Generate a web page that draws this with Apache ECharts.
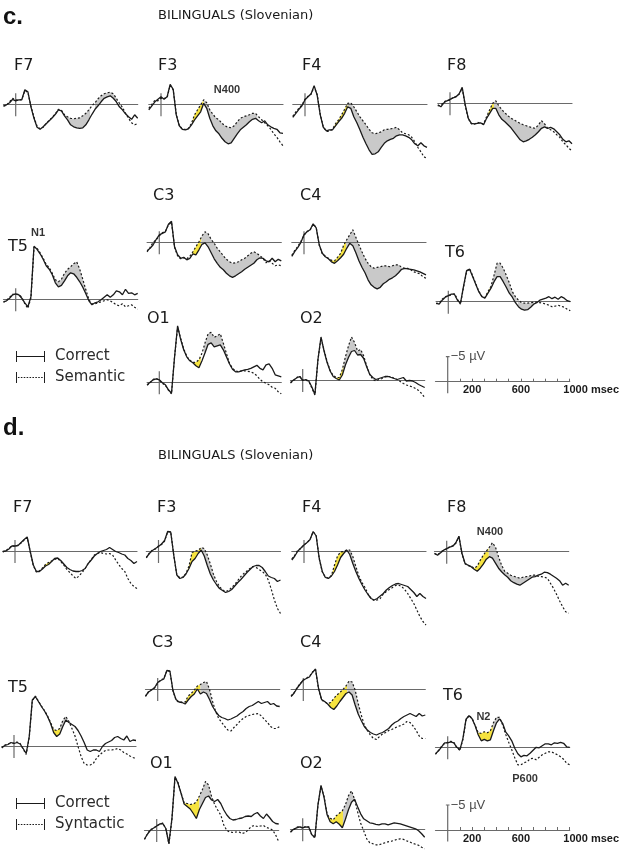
<!DOCTYPE html>
<html>
<head>
<meta charset="utf-8">
<script src="https://cdn.jsdelivr.net/npm/echarts@6/dist/echarts.min.js"></script>
<style>
  html, body { margin: 0; padding: 0; background: #fff; }
  #chart { width: 624px; height: 850px; }
</style>
</head>
<body>
<div id="chart"></div>
<script>
// Sample times (ms) shared by every waveform
const TIMES = [-100,-75,-50,-25,0,25,50,75,100,125,150,175,200,225,250,275,300,325,350,375,400,425,450,475,500,525,550,575,600,625,650,675,700,725,750,775,800,825,850,875,900,925,950,975,1000];

// ---- Panel c: Correct vs Semantic (µV, negative up) ----
const cF7Correct  = [0.3,0.1,-0.3,-1.0,-0.7,-0.9,-0.9,-2.9,-2.5,0.5,2.8,4.6,5.0,4.5,3.9,3.3,2.7,2.0,1.1,1.3,2.3,3.1,4.1,4.5,4.7,4.8,4.7,4.1,3.1,2.0,1.0,0.3,-0.5,-1.2,-1.5,-1.7,-1.2,-0.5,0.5,1.1,1.9,2.5,3.0,2.1,2.8];
const cF7Semantic = [0.4,0.2,-0.5,-1.2,-0.9,-0.8,-1.0,-2.7,-2.4,0.4,2.6,4.4,4.9,4.6,3.8,3.2,2.6,1.9,1.0,1.2,2.1,2.5,2.8,2.9,2.8,2.7,2.3,1.8,1.1,0.3,-0.3,-1.1,-1.7,-2.1,-2.3,-2.4,-2.1,-1.2,-0.2,0.6,1.8,2.8,3.7,4.1,3.9];
const cF3Correct  = [1.1,0.3,-0.5,-1.0,-1.5,-1.0,-1.5,-4.0,-3.0,2.1,4.3,5.0,5.1,4.9,4.1,3.1,2.3,1.5,-0.2,0.8,2.8,4.3,5.3,5.9,6.8,7.5,7.9,7.7,6.8,5.9,5.1,4.6,4.1,3.5,3.0,2.8,3.3,3.7,3.3,4.1,4.5,4.8,5.0,5.7,5.8];
const cF3Semantic = [0.8,0.0,-0.8,-0.7,-1.2,-1.2,-1.3,-3.8,-2.9,2.0,4.2,5.0,5.0,4.8,3.8,2.1,1.1,0.1,-0.9,-0.3,1.1,2.0,2.7,3.1,3.8,4.3,4.6,4.7,4.3,3.5,2.8,2.5,2.3,2.1,1.8,1.8,2.5,3.1,3.7,4.3,5.0,5.9,6.6,7.5,8.3];
const cF4Correct  = [2.6,1.8,1.0,0.3,-0.9,-1.5,-2.1,-3.7,-1.8,2.1,4.6,5.3,5.1,5.1,4.3,3.5,2.8,1.8,0.5,0.8,2.5,3.7,5.1,6.6,7.9,9.1,10.0,9.9,9.5,8.6,7.8,7.3,7.0,6.8,6.3,6.1,6.1,6.3,6.6,7.1,7.9,8.3,7.7,8.3,8.6];
const cF4Semantic = [2.4,1.5,0.8,0.1,-1.0,-1.6,-2.0,-3.5,-1.9,2.0,4.5,5.4,5.4,5.0,3.9,3.1,2.1,1.0,-0.2,-0.3,0.5,1.5,2.5,3.3,4.1,5.0,5.7,5.9,5.7,5.5,5.1,5.0,4.9,4.8,4.6,5.1,5.7,5.9,6.1,6.6,7.5,8.6,9.5,10.5,10.8];
const cF8Correct  = [0.3,0.7,-0.1,-0.5,-0.8,-1.1,-1.3,-1.9,-3.2,0.3,3.0,4.0,4.1,4.0,3.9,4.3,3.0,2.0,1.0,1.0,2.3,3.2,3.7,4.3,4.9,5.7,6.5,7.3,7.7,7.5,7.2,6.8,6.3,5.7,5.0,4.7,5.0,4.8,5.1,5.7,6.3,7.2,7.7,7.5,8.1];
const cF8Semantic = [0.5,0.4,-0.3,-0.6,-0.6,-1.2,-1.4,-1.8,-3.0,0.5,3.1,4.1,4.2,3.8,4.0,4.1,2.7,1.3,0.0,-0.5,0.5,1.3,1.9,2.5,3.0,3.3,3.7,4.0,4.3,4.5,4.7,4.9,5.0,4.3,3.5,4.1,5.0,5.3,5.7,6.3,6.8,7.7,8.3,9.0,9.5];
const cT5Correct  = [0.5,0.3,-0.2,-0.9,-1.1,-0.9,-0.2,0.7,1.5,-0.5,-10.6,-10.0,-9.1,-8.0,-6.7,-6.0,-4.9,-3.3,-2.5,-2.8,-3.7,-4.7,-5.3,-5.1,-4.4,-3.5,-2.4,-1.1,0.3,1.1,0.7,0.5,0.1,-0.4,-0.9,-0.4,-0.9,-1.7,-1.5,-0.9,-2.0,-1.2,-1.3,-0.9,-1.2];
const cT5Semantic = [0.6,0.2,-0.4,-1.0,-1.0,-1.0,-0.4,0.9,1.8,-0.3,-10.4,-10.2,-9.3,-8.2,-7.0,-6.3,-5.2,-3.9,-3.5,-4.0,-5.2,-6.0,-6.5,-7.1,-7.5,-6.0,-4.0,-1.9,0.1,0.9,0.9,0.7,0.5,0.3,0.1,0.3,0.7,1.1,1.3,0.9,1.5,1.3,1.1,1.6,2.0];
const cC3Correct  = [1.7,1.2,0.5,-0.6,-1.5,-1.8,-2.1,-3.6,-4.2,0.9,2.5,3.2,3.0,3.5,3.2,2.3,2.5,1.5,0.4,0.1,0.9,2.1,3.3,4.2,5.0,5.5,6.2,6.7,7.0,6.7,6.3,5.9,5.4,5.0,4.6,4.2,3.5,3.1,3.2,3.7,3.9,3.2,3.9,3.4,3.7];
const cC3Semantic = [1.9,1.0,0.0,-0.5,-1.3,-1.9,-2.2,-3.5,-4.0,1.0,2.7,3.3,3.1,3.3,2.8,1.9,0.9,-0.1,-1.3,-2.1,-1.7,-0.6,0.2,1.2,1.9,2.7,3.4,3.9,4.2,4.1,3.9,3.5,3.2,2.7,2.2,1.9,2.2,2.7,3.2,4.1,3.7,4.2,4.7,4.5,4.7];
const cC4Correct  = [2.8,1.8,1.0,0.0,-1.5,-2.1,-2.5,-3.7,-2.9,0.5,2.2,2.9,3.3,3.9,4.2,3.7,3.1,2.4,1.2,0.2,0.7,2.1,3.7,5.0,6.1,7.5,8.5,9.0,9.3,9.0,8.3,7.9,7.4,7.1,6.7,6.1,5.4,5.2,5.3,5.4,5.5,5.7,5.9,6.2,6.5];
const cC4Semantic = [2.6,1.6,0.8,-0.2,-1.4,-2.2,-2.4,-3.6,-3.0,0.6,2.3,2.8,3.2,3.6,3.7,3.0,2.2,0.6,-0.5,-1.5,-2.5,-1.0,0.5,1.9,3.2,4.2,4.9,5.2,5.0,4.9,4.7,4.7,4.9,4.7,4.5,4.5,5.0,5.2,5.2,5.5,5.9,6.1,6.3,6.9,7.2];
const cT6Correct  = [0.3,0.5,-0.3,-0.9,-1.2,-1.5,-1.5,-0.3,0.3,-3.1,-6.2,-6.5,-5.0,-3.5,-2.0,-1.0,-0.7,-1.7,-2.7,-4.0,-5.0,-5.0,-4.0,-2.9,-1.7,-0.9,0.2,1.0,1.5,1.7,1.6,1.1,0.5,0.2,-0.3,-0.5,-0.7,-1.0,-0.6,-0.9,-0.5,-1.0,-0.7,-0.2,0.0];
const cT6Semantic = [0.4,0.3,-0.5,-1.0,-1.1,-1.4,-1.6,-0.5,0.5,-2.9,-6.0,-6.6,-5.2,-3.6,-2.1,-1.1,-0.8,-2.0,-3.1,-5.3,-7.7,-7.7,-6.7,-5.3,-3.8,-2.0,-1.0,-0.3,0.2,0.3,0.3,0.2,0.1,0.1,0.2,0.3,0.5,0.7,1.0,0.9,0.7,0.9,1.1,1.5,1.8];
const cO1Correct  = [0.5,0.0,-0.5,-0.7,-0.5,0.1,0.5,1.5,2.2,-5.0,-11.3,-8.6,-6.5,-5.1,-4.3,-3.9,-3.3,-2.9,-4.3,-5.9,-7.6,-7.9,-7.1,-7.3,-7.5,-6.5,-5.1,-3.7,-2.6,-2.1,-2.1,-2.3,-2.5,-2.6,-2.8,-3.1,-3.4,-2.8,-2.5,-3.5,-3.7,-2.8,-1.5,-1.3,-1.1];
const cO1Semantic = [0.6,0.1,-0.6,-0.8,-0.4,0.2,0.6,1.6,2.3,-5.1,-11.0,-8.8,-6.7,-5.2,-4.4,-4.0,-4.0,-4.5,-5.8,-7.9,-9.7,-10.0,-9.0,-9.3,-9.7,-7.8,-5.8,-3.8,-2.8,-2.3,-2.1,-2.3,-2.3,-2.2,-2.1,-1.8,-1.3,-0.6,-0.1,0.2,0.5,1.0,1.2,1.9,2.3];
const cO2Correct  = [0.5,0.0,-0.4,-0.7,0.1,-0.1,0.2,1.4,2.9,-4.1,-8.6,-5.8,-3.5,-1.8,-0.7,-0.3,0.0,-1.0,-3.0,-4.5,-5.7,-5.9,-5.0,-5.1,-4.3,-2.6,-1.1,-0.5,-0.1,-0.3,-0.5,-0.7,-0.7,-0.5,-0.3,-0.1,-0.3,-0.5,0.2,0.1,0.2,0.5,0.9,1.2,1.5];
const cO2Semantic = [0.6,0.1,-0.5,-0.8,0.0,0.0,0.3,1.6,3.0,-4.0,-8.4,-6.0,-3.7,-1.9,-0.9,-0.5,-0.5,-2.1,-4.6,-6.8,-8.6,-7.5,-5.8,-6.1,-4.8,-2.8,-1.1,-0.1,0.2,-0.1,-0.3,-0.6,-0.7,-0.7,-0.3,-0.1,0.3,0.7,1.0,1.2,1.4,1.7,2.1,2.7,3.5];

// ---- Panel d: Correct vs Syntactic ----
const dF7Correct   = [0.1,0.0,-0.4,-1.0,-1.0,-1.1,-1.7,-2.3,-2.8,0.1,2.8,4.1,4.1,3.6,3.0,2.7,2.1,1.5,1.4,1.9,2.6,3.3,3.7,4.0,4.1,4.1,3.9,3.5,2.5,1.8,1.0,0.5,0.1,-0.1,-0.3,-0.7,-0.3,0.1,0.3,0.6,0.8,1.5,1.9,2.5,2.1];
const dF7Syntactic = [0.2,-0.1,-0.5,-1.1,-0.9,-1.2,-1.6,-2.2,-2.7,0.2,2.9,4.2,4.0,3.4,2.7,2.3,2.0,1.7,1.5,2.1,2.8,3.7,4.3,5.0,5.5,5.0,4.3,3.5,2.5,1.7,0.8,0.5,0.3,0.5,0.6,0.5,0.8,1.8,2.7,3.5,4.1,5.5,6.5,7.1,7.5];
const dF3Correct   = [1.3,0.5,-0.1,-0.5,-0.9,-1.4,-2.1,-3.9,-3.8,0.8,4.8,5.5,5.3,4.6,3.5,2.1,1.5,0.5,-0.2,1.0,2.9,4.6,5.8,6.7,7.5,7.9,8.3,8.1,7.7,7.0,6.3,5.7,5.0,4.3,3.7,3.1,2.9,2.9,3.3,4.1,5.0,5.3,5.5,6.1,5.8];
const dF3Syntactic = [1.4,0.4,-0.2,-0.4,-1.0,-1.3,-2.0,-3.8,-3.9,0.9,4.7,5.4,5.2,4.5,3.0,0.3,0.0,-0.1,-0.7,-0.5,0.8,2.6,4.6,6.1,7.1,7.8,8.1,7.9,7.3,6.7,5.9,5.1,4.5,4.0,3.5,3.1,3.3,3.7,4.1,4.6,5.8,7.7,9.8,11.5,12.5];
const dF4Correct   = [1.8,1.0,0.0,-0.6,-1.2,-1.7,-2.3,-3.9,-3.0,1.5,4.1,5.3,5.5,5.0,4.1,2.8,1.3,0.5,-0.2,0.7,2.5,4.1,5.5,6.7,7.8,8.7,9.5,9.8,9.5,9.0,8.5,7.8,7.3,6.9,6.6,6.5,6.7,6.9,7.1,7.7,8.3,9.1,8.5,9.1,9.5];
const dF4Syntactic = [1.6,0.8,-0.2,-0.5,-1.3,-1.6,-2.4,-3.8,-3.1,1.6,4.2,5.2,5.4,4.9,2.8,1.0,0.2,0.1,-0.2,-0.2,1.1,3.1,5.0,6.3,7.3,8.6,9.5,9.9,9.8,9.5,8.6,8.1,7.7,7.3,6.9,6.8,7.1,7.7,8.5,9.5,10.5,11.8,13.1,14.1,14.8];
const dF8Correct   = [0.3,0.7,0.2,-0.3,-0.6,-0.9,-1.1,-1.8,-3.1,0.3,2.3,2.7,3.0,3.5,3.9,3.3,2.5,1.5,1.0,1.3,2.3,3.3,4.0,4.6,5.1,5.8,6.2,6.5,6.7,6.3,5.9,5.5,5.1,5.0,4.7,4.5,4.1,4.2,4.5,4.9,5.3,5.8,6.7,6.3,6.7];
const dF8Syntactic = [0.4,0.6,0.1,-0.4,-0.5,-1.0,-1.2,-1.7,-3.0,0.4,2.4,2.8,2.9,3.3,2.9,1.7,0.7,-0.1,-0.9,-1.8,-0.9,1.0,2.7,3.9,4.3,4.7,4.9,5.1,5.3,5.1,5.0,4.9,4.7,4.7,4.9,5.0,5.1,5.3,6.3,7.3,8.5,9.8,11.0,12.0,12.3];
const dT5Correct   = [0.3,-0.1,-0.3,-0.7,-0.5,-0.7,-0.4,0.5,1.5,-1.9,-9.2,-9.9,-8.9,-7.9,-7.0,-5.9,-4.5,-2.7,-1.9,-2.4,-3.9,-5.2,-4.7,-4.3,-3.9,-3.1,-2.0,-0.7,0.8,1.1,0.8,0.8,1.1,0.1,-0.5,-0.8,-1.1,-1.7,-1.9,-1.5,-1.2,-2.0,-0.9,-1.2,-1.1];
const dT5Syntactic = [0.4,-0.2,-0.4,-0.6,-0.6,-0.8,-0.5,0.6,1.7,-1.7,-9.0,-10.0,-9.0,-8.0,-7.1,-6.0,-4.7,-3.3,-3.1,-3.5,-5.1,-5.9,-4.9,-3.5,-2.0,0.1,2.1,3.5,3.8,3.8,3.5,2.5,1.8,1.3,0.9,0.8,0.8,0.7,0.5,0.8,1.3,1.6,2.0,2.3,2.5];
const dC3Correct   = [1.4,0.6,0.2,-0.3,-1.3,-1.7,-2.0,-3.7,-3.6,0.3,2.1,2.6,2.7,3.0,2.2,1.5,1.0,0.0,1.0,0.6,0.9,2.1,3.5,4.5,5.3,5.7,5.9,6.2,6.0,5.7,5.4,4.9,4.5,3.9,3.5,3.3,2.9,2.5,2.9,2.7,2.5,3.1,2.9,3.4,3.5];
const dC3Syntactic = [1.5,0.5,0.1,-0.2,-1.2,-1.8,-2.1,-3.6,-3.5,0.4,2.2,2.7,2.6,2.6,1.4,0.9,0.2,-0.6,-0.9,-1.3,-1.5,0.1,2.5,4.5,5.9,6.7,7.5,8.2,8.4,7.7,7.1,6.4,5.9,5.5,5.3,5.1,5.0,4.9,5.4,6.1,6.7,7.5,7.9,7.9,7.5];
const dC4Correct   = [1.5,0.8,-0.2,-1.0,-1.8,-2.1,-2.4,-3.3,-4.0,-0.1,2.1,2.5,3.0,3.7,4.1,3.4,2.5,1.7,0.9,0.6,1.2,3.2,5.0,6.3,7.5,8.2,8.7,9.0,9.2,8.9,8.7,8.3,7.9,7.2,6.7,6.4,5.9,5.5,5.2,4.9,5.2,5.5,4.9,5.4,5.2];
const dC4Syntactic = [1.4,0.7,-0.3,-1.1,-1.7,-2.2,-2.5,-3.4,-3.9,0.0,2.2,2.6,2.9,2.7,1.9,1.2,0.7,0.1,-0.6,-1.6,-1.4,0.2,2.9,5.2,7.2,8.3,9.2,9.9,10.1,9.5,9.0,8.7,8.3,8.1,7.8,7.5,7.3,7.0,6.5,6.7,7.4,8.3,9.4,9.9,9.9];
const dT6Correct   = [1.3,0.7,-0.1,-0.9,-0.9,-1.1,-0.9,0.0,0.5,-1.8,-5.6,-6.3,-5.7,-4.3,-2.5,-1.3,-1.6,-1.3,-1.5,-3.3,-4.9,-5.7,-4.8,-3.1,-2.3,-1.3,0.2,1.3,1.9,1.6,1.7,1.2,0.6,0.0,0.1,-0.3,-0.7,-0.7,-0.5,-0.9,-0.8,-1.0,-0.8,-0.1,0.0];
const dT6Syntactic = [1.4,0.6,-0.2,-0.8,-1.0,-1.2,-1.0,0.1,0.6,-1.6,-5.4,-6.4,-5.8,-4.4,-2.9,-2.8,-3.1,-2.9,-3.3,-4.9,-6.0,-6.0,-4.5,-2.6,-1.0,0.5,2.1,3.5,3.5,3.1,2.9,2.3,2.2,2.5,2.0,1.5,1.2,0.9,0.9,1.2,1.5,1.9,2.4,3.2,3.5];
const dO1Correct   = [1.8,0.8,0.0,-0.4,-0.8,-1.2,-1.3,-0.3,2.7,-2.3,-10.7,-9.3,-7.3,-5.2,-4.7,-4.2,-3.3,-2.3,-4.1,-5.3,-6.5,-6.8,-6.0,-5.7,-6.1,-5.3,-4.0,-3.0,-2.3,-2.0,-2.1,-2.3,-2.4,-2.7,-2.8,-2.7,-3.2,-3.5,-2.8,-2.3,-3.2,-2.5,-1.7,-1.3,-1.2];
const dO1Syntactic = [1.9,0.7,-0.1,-0.3,-0.9,-1.1,-1.4,-0.2,2.8,-2.1,-10.5,-9.5,-7.4,-5.4,-5.3,-5.1,-5.2,-5.6,-6.8,-8.1,-9.7,-9.0,-6.7,-5.1,-4.0,-3.0,-1.0,0.1,0.4,0.5,0.4,0.4,0.7,0.5,0.0,-0.7,-0.9,-0.7,-0.8,-0.9,-0.5,-0.3,0.0,1.0,2.3];
const dO2Correct   = [0.5,0.0,-0.3,-0.5,-0.3,-0.5,-0.4,1.1,1.6,-4.9,-8.8,-6.4,-2.9,-1.5,-1.1,-1.5,-1.0,-0.3,-2.0,-3.9,-5.4,-6.0,-4.5,-3.1,-2.1,-1.7,-1.3,-1.2,-1.0,-0.9,-1.1,-1.1,-0.9,-1.1,-1.3,-1.2,-1.1,-0.9,-0.7,-0.5,-0.3,-0.1,0.3,0.9,1.6];
const dO2Syntactic = [0.6,0.1,-0.4,-0.6,-0.2,-0.6,-0.5,1.2,1.7,-4.8,-8.6,-6.6,-3.0,-2.2,-1.9,-2.7,-3.2,-3.7,-4.9,-6.7,-7.7,-6.0,-3.5,-1.2,0.3,1.9,2.7,2.9,3.1,3.1,2.9,2.7,2.5,2.4,2.2,2.0,1.9,2.0,2.3,2.5,2.8,3.0,3.2,3.6,3.9];

// Time windows (ms) of the shaded differences: early (yellow) and later (grey)
const cEarly = { F7: [], F3: [[255,350]], F4: [[240,350]], F8: [[310,360]], T5: [], C3: [[270,345]], C4: [[225,345]], T6: [[300,345]], O1: [[285,340]], O2: [[280,335]] };
const cLate  = { F7: [[400,610],[650,830]], F3: [[350,790]], F4: [[350,780]], F8: [[360,790]], T5: [[315,580]], C3: [[345,820]], C4: [[345,800]], T6: [[345,560],[570,700]], O1: [[365,570]], O2: [[335,530]] };
const dEarly = { F7: [[235,310]], F3: [[240,350]], F4: [[225,350]], F8: [[225,345]], T5: [[290,380]], C3: [[225,350]], C4: [[210,360]], T6: [[240,370]], O1: [[230,350]], O2: [[215,330]] };
const dLate  = { F7: [[365,410]], F3: [[350,460]], F4: [[350,470]], F8: [[345,740]], T5: [[380,440]], C3: [[350,460]], C4: [[360,460]], T6: [[370,420]], O1: [[350,450]], O2: [[330,430]] };

// Scale bar
const SCALE_TICKS = [100,200,300,400,500,600,700,800,900,1000];
const SCALE_LABELS = [200,600,1000];
const SCALE_BAR_UV = -5;

// ---------------- layout & styling ----------------
const PX_MS = 0.122, PX_UV = 5;
const T_MIN = -100, T_MAX = 1000, V_MIN = -14, V_MAX = 16;
const INK = '#1a1a1a', AXIS = '#6a6a6a', GREY = '#c9c9c9', YELLOW = '#f6e33f';
const SANS = '"DejaVu Sans", Verdana, sans-serif';
const ARIAL = '"Liberation Sans", Arial, sans-serif';

// electrode: [x of 0 ms, y of 0 µV, label x, label y]
const LAYOUT = {
  c: { F7:[15.7,104.3,14,66], F3:[161,104.3,158,66], F4:[305,104.3,302,66], F8:[450,103.3,447,66],
       T5:[15.7,299.3,8,247], C3:[159.3,242.3,153,196], C4:[304,242.3,300,196], T6:[448.3,301.7,445,253],
       O1:[159.3,382.3,147,319], O2:[302.7,380,300,319] },
  d: { F7:[15,551,13,508], F3:[158.5,551,157,508], F4:[304,551,302,508], F8:[446.7,551.7,447,508],
       T5:[14,746,8,688], C3:[157.7,689,152,643], C4:[303.3,689,300,643], T6:[447.7,747.3,443,696],
       O1:[156.7,830,150,764], O2:[302.7,829.3,300,764] }
};
const PANELS = {
  c: { letter:[3,17], title:[158,16], scale:[447.7,381.7], legendTop:349, other:'Semantic',
       correct:{F7:cF7Correct,F3:cF3Correct,F4:cF4Correct,F8:cF8Correct,T5:cT5Correct,C3:cC3Correct,C4:cC4Correct,T6:cT6Correct,O1:cO1Correct,O2:cO2Correct},
       other_:{F7:cF7Semantic,F3:cF3Semantic,F4:cF4Semantic,F8:cF8Semantic,T5:cT5Semantic,C3:cC3Semantic,C4:cC4Semantic,T6:cT6Semantic,O1:cO1Semantic,O2:cO2Semantic},
       early:cEarly, late:cLate,
       notes:[['F3','N400',541,-2.9],['T5','N1',183,-13.2]] },
  d: { letter:[3,428], title:[158,456], scale:[447.7,830], legendTop:796, other:'Syntactic',
       correct:{F7:dF7Correct,F3:dF3Correct,F4:dF4Correct,F8:dF8Correct,T5:dT5Correct,C3:dC3Correct,C4:dC4Correct,T6:dT6Correct,O1:dO1Correct,O2:dO2Correct},
       other_:{F7:dF7Syntactic,F3:dF3Syntactic,F4:dF4Syntactic,F8:dF8Syntactic,T5:dT5Syntactic,C3:dC3Syntactic,C4:dC4Syntactic,T6:dT6Syntactic,O1:dO1Syntactic,O2:dO2Syntactic},
       early:dEarly, late:dLate,
       notes:[['F8','N400',355,-3.9],['T6','N2',293,-6.1],['T6','P600',634,6.3]] }
};

const grids = [], xAxes = [], yAxes = [], series = [], graphics = [];

// vMax = 0 puts the time axis at the bottom edge of the grid
function addGrid(x0, y0, vMax, axisX) {
  const i = grids.length;
  grids.push({ left: x0 + T_MIN * PX_MS, top: y0 + V_MIN * PX_UV,
               width: (T_MAX - T_MIN) * PX_MS, height: (vMax - V_MIN) * PX_UV,
               outerBoundsMode: 'none' });
  xAxes.push(Object.assign({ gridIndex: i, type: 'value', min: T_MIN, max: T_MAX, z: 2,
    axisLine: { show: true, onZero: true, lineStyle: { color: AXIS, width: 1.2 } },
    axisTick: { show: false }, axisLabel: { show: false }, splitLine: { show: false } }, axisX || {}));
  yAxes.push({ gridIndex: i, type: 'value', min: V_MIN, max: vMax, inverse: true, show: false });
  return i;
}

function valueAt(arr, t) {
  for (let k = 0; k < TIMES.length - 1; k++) {
    if (t >= TIMES[k] && t <= TIMES[k + 1]) {
      const f = (t - TIMES[k]) / (TIMES[k + 1] - TIMES[k]);
      return arr[k] + f * (arr[k + 1] - arr[k]);
    }
  }
  return arr[arr.length - 1];
}

function pairs(arr) { return TIMES.map((t, k) => [t, arr[k]]); }

const base = { silent: true, animation: false, emphasis: { disabled: true } };

Object.keys(PANELS).forEach(pk => {
  const P = PANELS[pk];
  Object.keys(LAYOUT[pk]).forEach(el => {
    const [x0, y0, lx, ly] = LAYOUT[pk][el];
    const gi = addGrid(x0, y0, V_MAX);
    const solid = P.correct[el], dashed = P.other_[el];
    const wins = P.early[el].map(w => [w[0], w[1], 0]).concat(P.late[el].map(w => [w[0], w[1], 1]));
    series.push(Object.assign({}, base, {
      type: 'custom', xAxisIndex: gi, yAxisIndex: gi, z: 1, data: wins,
      renderItem: (params, api) => {
        const t0 = api.value(0), t1 = api.value(1), kind = api.value(2);
        const ts = [t0].concat(TIMES.filter(t => t > t0 && t < t1), [t1]);
        const pts = ts.map(t => api.coord([t, valueAt(solid, t)]))
          .concat(ts.slice().reverse().map(t => api.coord([t, valueAt(dashed, t)])));
        return { type: 'polygon', shape: { points: pts }, style: { fill: kind ? GREY : YELLOW } };
      }
    }));
    // stimulus onset marker
    series.push(Object.assign({}, base, {
      type: 'line', xAxisIndex: gi, yAxisIndex: gi, z: 2, symbol: 'none',
      data: [[0, -2.2], [0, 2.4]], lineStyle: { color: AXIS, width: 1.2 }
    }));
    series.push(Object.assign({}, base, {
      type: 'line', name: P.other, xAxisIndex: gi, yAxisIndex: gi, z: 3, symbol: 'none',
      data: pairs(dashed), color: INK, lineStyle: { color: INK, width: 1.2, type: [2, 2] }
    }));
    series.push(Object.assign({}, base, {
      type: 'line', name: 'Correct', xAxisIndex: gi, yAxisIndex: gi, z: 4, symbol: 'none',
      data: pairs(solid), color: INK, lineStyle: { color: INK, width: 1.3 }
    }));
    P.notes.filter(n => n[0] === el).forEach(n => {
      series.push(Object.assign({}, base, {
        type: 'scatter', xAxisIndex: gi, yAxisIndex: gi, z: 5, symbolSize: 0,
        data: [{ value: [n[2], n[3]], name: n[1] }],
        label: { show: true, position: 'inside', formatter: '{b}', color: '#000',
                 fontFamily: ARIAL, fontWeight: 'bold', fontSize: 11 }
      }));
    });
    graphics.push({ type: 'text', x: lx, y: ly, silent: true,
      style: { text: el, font: '16px ' + SANS, fill: INK, verticalAlign: 'middle', align: 'left' } });
  });

  // time / amplitude scale
  const [sx, sy] = P.scale;
  const si = addGrid(sx, sy, 0, {
    axisLine: { show: true, onZero: false, lineStyle: { color: AXIS, width: 1.2 } },
    axisTick: { show: true, inside: true, length: 3, customValues: SCALE_TICKS, lineStyle: { color: AXIS } },
    axisLabel: { show: true, customValues: SCALE_LABELS, margin: 3, color: INK,
      fontFamily: ARIAL, fontWeight: 'bold', fontSize: 11,
      formatter: v => v === 1000 ? '{u|' + v + ' msec}' : String(v),
      rich: { u: { fontFamily: ARIAL, fontWeight: 'bold', fontSize: 11, color: INK, padding: [0, 0, 0, 43] } } }
  });
  series.push(Object.assign({}, base, {
    type: 'line', xAxisIndex: si, yAxisIndex: si, symbol: 'none', clip: false,
    data: [[0, SCALE_BAR_UV], [0, 2.3]], lineStyle: { color: AXIS, width: 1.2 }
  }));
  series.push(Object.assign({}, base, {
    type: 'line', xAxisIndex: si, yAxisIndex: si, symbol: 'none', clip: false,
    data: [[-15, SCALE_BAR_UV], [15, SCALE_BAR_UV]], lineStyle: { color: AXIS, width: 1.2 }
  }));
  series.push(Object.assign({}, base, {
    type: 'scatter', xAxisIndex: si, yAxisIndex: si, symbolSize: 0, clip: false,
    data: [[0, SCALE_BAR_UV]],
    label: { show: true, position: 'right', distance: 3, color: INK, fontFamily: ARIAL, fontSize: 13,
             formatter: p => '\u2212' + Math.abs(p.value[1]) + ' \u00b5V' }
  }));

  graphics.push({ type: 'text', x: P.letter[0], y: P.letter[1], silent: true,
    style: { text: pk + '.', font: 'bold 24px ' + ARIAL, fill: '#111', verticalAlign: 'middle' } });
  graphics.push({ type: 'text', x: P.title[0], y: P.title[1], silent: true,
    style: { text: 'BILINGUALS (Slovenian)', font: '13px ' + SANS, fill: INK, verticalAlign: 'middle' } });
});

// legend icons: |——| and |·····|
const ICON_SOLID = 'path://M0,0h1v11h-1z M1,5h28v1h-28z M29,0h1v11h-1z';
let dots = 'M0,0h1v11h-1z M29,0h1v11h-1z';
for (let x = 2; x < 28; x += 3) dots += ' M' + x + ',5h1.6v1h-1.6z';
const ICON_DOTTED = 'path://' + dots;

const legendBase = {
  orient: 'vertical', left: 16, itemWidth: 29, itemHeight: 11, itemGap: 6, padding: 0,
  selectedMode: false, symbolKeepAspect: false,
  itemStyle: { borderWidth: 0 }, lineStyle: { width: 0 },
  textStyle: { fontFamily: SANS, fontSize: 15, color: '#2a2a2a', padding: [0, 0, 0, 5] }
};

const chart = echarts.init(document.getElementById('chart'), null, { renderer: 'canvas' });
chart.setOption({
  animation: false,
  backgroundColor: '#fff',
  grid: grids, xAxis: xAxes, yAxis: yAxes, series: series,
  legend: [
    Object.assign({}, legendBase, { top: PANELS.c.legendTop,
      data: [{ name: 'Correct', icon: ICON_SOLID }, { name: 'Semantic', icon: ICON_DOTTED }] }),
    Object.assign({}, legendBase, { top: PANELS.d.legendTop,
      data: [{ name: 'Correct', icon: ICON_SOLID }, { name: 'Syntactic', icon: ICON_DOTTED }] })
  ],
  graphic: graphics
});
</script>
</body>
</html>
